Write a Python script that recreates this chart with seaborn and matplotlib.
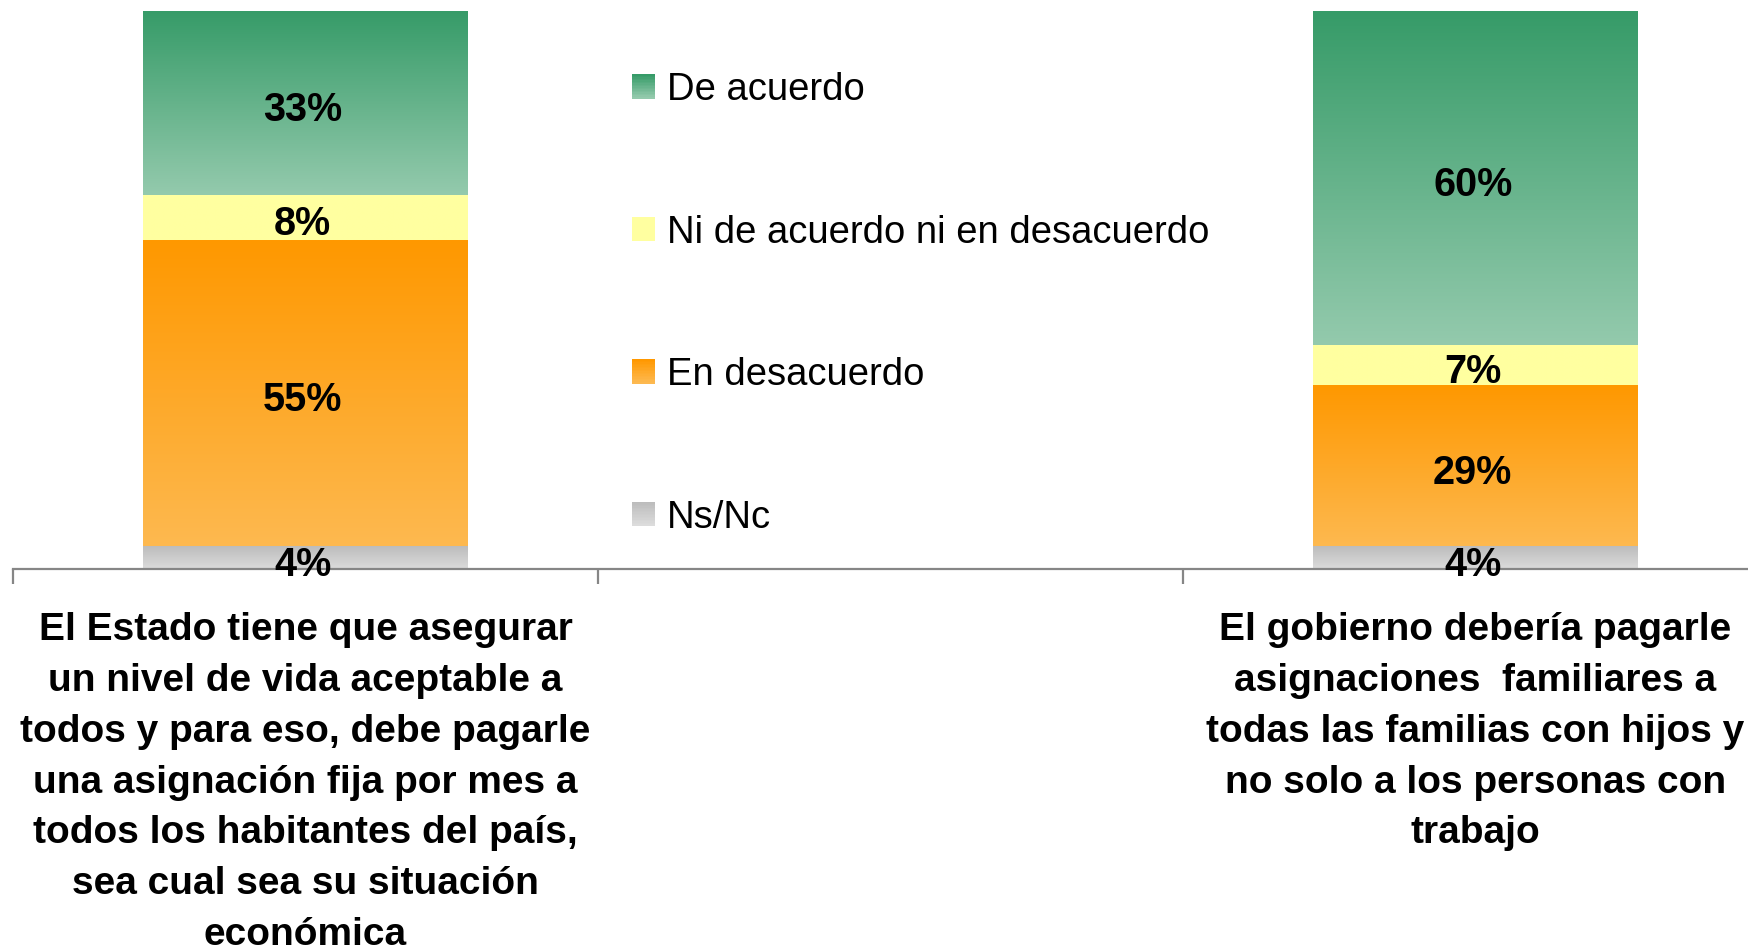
import numpy as np
import pandas as pd
import seaborn as sns
import matplotlib.pyplot as plt
from matplotlib.patches import Patch, Rectangle
from matplotlib.legend_handler import HandlerBase
from matplotlib.colors import to_rgb

preguntas = [
    "El Estado tiene que asegurar\nun nivel de vida aceptable a\ntodos y para eso, debe pagarle\n"
    "una asignación fija por mes a\ntodos los habitantes del país,\nsea cual sea su situación\neconómica",
    "El gobierno debería pagarle\nasignaciones  familiares a\ntodas las familias con hijos y\n"
    "no solo a los personas con\ntrabajo",
]
respuestas = ["De acuerdo", "Ni de acuerdo ni en desacuerdo", "En desacuerdo", "Ns/Nc"]
de_acuerdo = [33, 60]
ni_ni = [8, 7]
en_desacuerdo = [55, 29]
ns_nc = [4, 4]

# degradado de cada serie: (arriba, abajo)
colores = {
    "De acuerdo": ("#369b68", "#94caad"),
    "Ni de acuerdo ni en desacuerdo": ("#ffffa0", "#ffffa0"),
    "En desacuerdo": ("#ff9800", "#fdb950"),
    "Ns/Nc": ("#bcbcbc", "#dcdcdc"),
}

df = pd.DataFrame({
    "pregunta": preguntas,
    "De acuerdo": de_acuerdo,
    "Ni de acuerdo ni en desacuerdo": ni_ni,
    "En desacuerdo": en_desacuerdo,
    "Ns/Nc": ns_nc,
})
# de abajo hacia arriba
apilado = respuestas[::-1]
tope = df[apilado].cumsum(axis=1)

sns.set_theme(style="white")
plt.rcParams['font.family'] = ['Liberation Sans', 'DejaVu Sans']
plt.rcParams['text.color'] = 'black'
plt.rcParams['xtick.labelcolor'] = 'black'

fig = plt.figure(figsize=(17.49, 9.52), dpi=100)
ax = fig.add_axes([13 / 1749, 383 / 952, 1755 / 1749, 558 / 952])

orden = [preguntas[0], " ", preguntas[1]]
ancho = 0.554

# barras altas primero, las de abajo encima (apilado a la seaborn)
for resp in respuestas:
    datos = pd.DataFrame({"pregunta": df["pregunta"], "tope": tope[resp]})
    n0 = len(ax.patches)
    sns.barplot(data=datos, x="pregunta", y="tope", order=orden, color=colores[resp][1],
                width=ancho, saturation=1, ax=ax, linewidth=0, errorbar=None)
    arriba, abajo = to_rgb(colores[resp][0]), to_rgb(colores[resp][1])
    grad = np.linspace(0, 1, 256)[:, None, None]
    img = (1 - grad) * np.array(arriba) + grad * np.array(abajo)
    for p in ax.patches[n0:]:
        if not np.isfinite(p.get_height()) or p.get_height() <= 0:
            continue
        x0, w, top = p.get_x(), p.get_width(), p.get_height()
        pos = int(round(x0 + w / 2))
        i = preguntas.index(orden[pos])
        val = df.loc[i, resp]
        ax.imshow(img, extent=[x0, x0 + w, top - val, top], aspect='auto', zorder=3,
                  interpolation='bilinear')
        ax.annotate(f"{val}%", (x0 + w / 2, top - val / 2), xytext=(-2, -5),
                    textcoords='offset points', ha='center', va='center',
                    fontsize=28.5, fontweight='bold', color='black', zorder=5)

ax.set_xlim(-0.5, 2.5)
ax.set_ylim(0, 100)
ax.set_ylabel("")
ax.set_xlabel("")
ax.set_yticks([])
for s in ["left", "top", "right"]:
    ax.spines[s].set_visible(False)
ax.spines["bottom"].set_color("#868686")
ax.spines["bottom"].set_linewidth(1.6)
ax.spines["bottom"].set_zorder(4)

ax.set_xticks([-0.5, 0.5, 1.5, 2.5], labels=["", "", "", ""])
ax.set_xticks([0, 1, 2], labels=orden, minor=True)
ax.tick_params(axis='x', which='major', length=11, width=1.6, color="#868686", direction='out',
               bottom=True)
ax.tick_params(axis='x', which='minor', length=0, pad=31, labelsize=28, labelcolor='black')
for lbl in ax.get_xticklabels(minor=True):
    lbl.set_fontweight('bold')
    lbl.set_linespacing(1.53)
    lbl.set_multialignment('center')


class Degradado(HandlerBase):
    def __init__(self, arriba, abajo):
        super().__init__()
        self.arriba, self.abajo = np.array(to_rgb(arriba)), np.array(to_rgb(abajo))

    def create_artists(self, legend, orig_handle, xdescent, ydescent, width, height,
                       fontsize, trans):
        n = 16
        arts = []
        for k in range(n):
            f = k / (n - 1)
            c = (1 - f) * self.arriba + f * self.abajo
            y = -ydescent + height * (1 - (k + 1) / n)
            arts.append(Rectangle((-xdescent, y), width, height / n + 0.3, facecolor=c,
                                  edgecolor='none', transform=trans))
        return arts


handles = [Patch(label=r) for r in respuestas]
hmap = {h: Degradado(*colores[r]) for h, r in zip(handles, respuestas)}
leg = fig.legend(handles=handles, handler_map=hmap, loc='upper left',
                 bbox_to_anchor=(632 / 1749, 1 - 72 / 952), bbox_transform=fig.transFigure,
                 frameon=False, fontsize=27.5, handlelength=0.6, handleheight=0.6,
                 handletextpad=0.32, labelspacing=2.79, borderpad=0, borderaxespad=0)
for t in leg.get_texts():
    t.set_color('black')

fig.savefig("out.png", dpi=100, facecolor='white')
